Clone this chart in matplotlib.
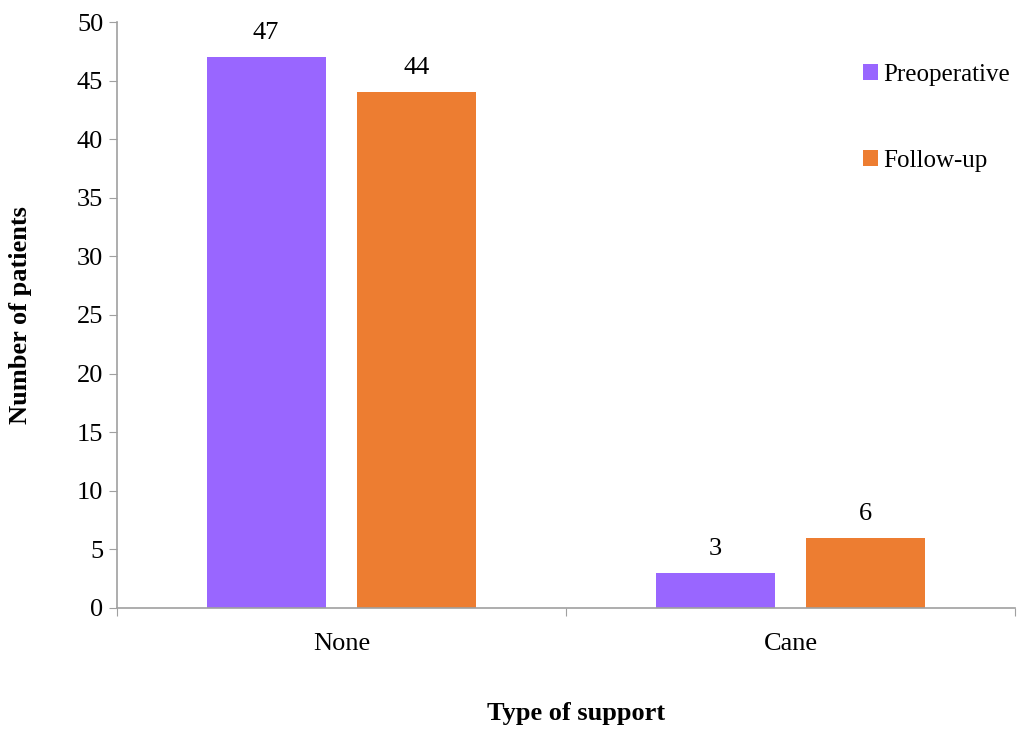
import matplotlib.pyplot as plt
import numpy as np

plt.rcParams["font.family"] = ["Liberation Serif", "DejaVu Serif"]

categories = ["None", "Cane"]
series_names = ["Preoperative", "Follow-up"]
preoperative = [47, 3]
follow_up = [44, 6]
colors = ["#9966FF", "#ED7D31"]

FS = 19

fig = plt.figure(figsize=(10.24, 7.31), dpi=100)
ax = fig.add_axes([0.1143, 0.1683, 0.8769, 0.8016])

x = np.arange(len(categories))
width = 0.265
offset = 0.168
for vals, name, color, shift in zip([preoperative, follow_up], series_names, colors, [-offset, offset]):
    bars = ax.bar(x + shift, vals, width, color=color, label=name, zorder=2)
    for bar, v in zip(bars, vals):
        ax.text(bar.get_x() + bar.get_width() / 2, v + 1.1, str(v),
                ha="center", va="bottom", fontsize=FS)

ax.set_xlim(-0.5, 1.5)
ax.set_ylim(0, 50)
ax.set_yticks(range(0, 51, 5))
ax.set_xticks([-0.5, 0.5, 1.5], minor=False)
ax.set_xticklabels([])
ax.set_xticks(x, minor=True)
ax.set_xticklabels(categories, minor=True)
ax.tick_params(axis="x", which="minor", length=0, pad=18, labelsize=FS)
ax.tick_params(axis="x", which="major", length=6, color="#A0A0A0")
ax.tick_params(axis="y", length=6, color="#A0A0A0", labelsize=FS, pad=4)

for side in ["top", "right"]:
    ax.spines[side].set_visible(False)
for side in ["left", "bottom"]:
    ax.spines[side].set_color("#A0A0A0")
    ax.spines[side].set_linewidth(1.2)

ax.set_ylabel("Number of patients", fontsize=FS, fontweight="bold", labelpad=32)
fig.text(0.5625, 0.008, "Type of support", ha="center", va="bottom",
         fontsize=FS, fontweight="bold")

ax.legend(loc="upper left", bbox_to_anchor=(0.82, 0.945), frameon=False,
          fontsize=18, handlelength=0.6, handleheight=0.6, handletextpad=0.2,
          labelspacing=2.55, borderaxespad=0)

fig.savefig("out.png", dpi=100)
